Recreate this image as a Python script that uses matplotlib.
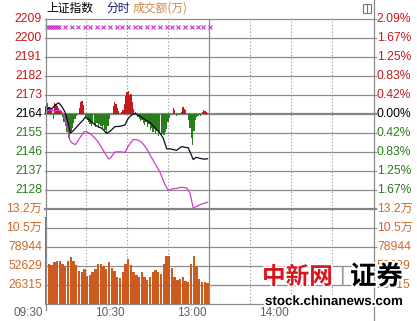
import matplotlib
matplotlib.use("Agg")
import matplotlib.pyplot as plt
import matplotlib.patheffects as pe
from matplotlib.lines import Line2D
from matplotlib.patches import Rectangle

# minutes after 09:30, the chart spans a whole 240-minute day
blackT = [0, 3, 5, 8, 10, 12.4, 14.6, 16.8, 18.7, 20.5, 22.7, 25.6, 27.8, 29.3, 31.5,
          33.7, 35.8, 38.8, 41.7, 45.1, 47.5, 51.2, 54.9, 58.5, 60.9, 63.4, 65.8, 69.5,
          73.2, 76.8, 80.5, 84.1, 86.5, 89, 91.4, 96.3, 100, 102.4, 104.8, 108.5, 110.5,
          113.4, 116.3, 118.9]
blackP = [2165.5, 2167, 2166.5, 2168.5, 2169.3, 2167.5, 2165, 2160, 2155, 2156, 2157.5,
          2159.6, 2161, 2162.4, 2161.8, 2160.5, 2159.2, 2158, 2157.2, 2154.8, 2155.8,
          2158, 2158.2, 2158.8, 2162, 2163.5, 2164.2, 2163, 2161.3, 2160, 2157.5, 2155,
          2152.6, 2147.5, 2147.5, 2146.8, 2148.6, 2148.2, 2148, 2142.4, 2143.5, 2143,
          2142.6, 2142.8]

purpleT = [0, 3.7, 7.3, 11, 13.7, 16.1, 18.3, 19.7, 22.2, 24.6, 28.3, 30, 32.9, 35.1,
           38, 41, 43.9, 46.6, 48.3, 51.2, 54.9, 58.5, 60.9, 64.6, 68.3, 71, 74.4, 76.8,
           80.5, 84.1, 87.8, 90.2, 92.9, 96.3, 100, 103.6, 106.1, 108.5, 112.2, 115.8,
           119]
purpleP = [2165.5, 2165.8, 2165.5, 2165.8, 2164, 2158, 2151.5, 2150.3, 2149.5, 2151.8,
           2155.5, 2155.8, 2154.8, 2153.5, 2151.5, 2148.5, 2145.4, 2142.7, 2143.5, 2146,
           2146.1, 2145.8, 2148.8, 2152, 2151.6, 2150.5, 2147.5, 2144.7, 2140.5, 2136.5,
           2130.5, 2127.8, 2128.5, 2128.8, 2129.3, 2129, 2126.5, 2119.4, 2120.7, 2121.6,
           2122.2]

# buy/sell strength bars, one per minute (index points off the previous close)
strength = [3.8, 4.7, 5.2, 3.3, 2.8, 2.4, -2.4, 5.2, 4.7, 3.8, 2.8, 1.9, 1.4,
            -1.4, -3.8, -5.6, -8.5, -11.3, -10.3, -8.0, -6.6, -4.2, -2.4,
            -0.9, 0, 2.8, 5.6, 6.1, 4.2, 0,
            -1.4, -2.8, -3.8, -4.7, -5.6, -3.8, -5.2, -6.1, -4.2, -6.6, -4.7, -5.6,
            -7.1, -5.2, -7.5, -9.4, -5.6, -2.4,
            0, 0, 3.8, 5.6, 4.7, 2.8, 1.4,
            0, 0.9, 1.9, 4.7, 8.5, 10.3, 10.8, 8.9, 9.4, 5.6, 2.4, 0.9,
            -0.5, -1.4, -2.4, -3.3, -2.8, -4.2, -5.2, -3.8, -6.1, -4.7, -7.5, -6.6,
            -8.5, -7.1, -9.4, -8.0, -10.3, -8.9, -10.3, -9.4, -9.9, -8.5, -7.1, -3.8, -1.9,
            -0.5, 0, 2.8, 1.9, -0.9, 0.5, -0.5, 0, 0.9, 3.3, 2.4, 1.9, 0,
            -2.8, -6.6, -11.3, -14.6, -8.0, -2.8, -1.4,
            -0.9, 0.5, -0.9, 0.9, 1.9, 1.4, 0.9, 0.5]

# turnover per 2 minutes
volT = list(range(0, 120, 2))
vol = [121000, 55000, 54000, 58000, 60000, 60000, 56000, 52000, 60000, 65000,
       60000, 54000, 46000, 45000, 48000, 39000, 40000, 44000, 48000, 55000,
       56000, 52000, 48000, 58000, 50000, 46000, 38000, 36000, 44000, 56000,
       62000, 54000, 45000, 40000, 37000, 44000, 38000, 33000, 38000, 45000,
       47000, 44000, 42000, 56000, 66000, 66000, 50000, 38000, 33000, 34000,
       37000, 32000, 30000, 55000, 66000, 52000, 35000, 30000, 31000, 29000]

markT = [1.5, 2.9, 4.4, 5.9, 7.3, 8.8, 10.2, 14.6, 19.5, 24.4, 29.3, 32.9, 37.8, 42.6,
         47.5, 52.4, 56.1, 60.9, 65.8, 69.5, 74.4, 79.2, 84.1, 89, 92.7, 97.5, 102.4,
         107.3, 112.1, 115.8, 120.7]

prevClose = 2164
priceTicks = [2209, 2200, 2191, 2182, 2173, 2164, 2155, 2146, 2137, 2128]
pctLabels = ["2.09%", "1.67%", "1.25%", "0.83%", "0.42%", "0.00%",
             "0.42%", "0.83%", "1.25%", "1.67%"]
volTicks = [131575, 105260, 78944, 52629, 26315]
volLabels = ["13.2万", "10.5万", "78944", "52629", "26315"]
timeTicks = [0, 60, 120, 180]
timeLabels = ["09:30", "10:30", "13:00", "14:00"]

RED = "#c41a1a"
GREEN = "#2a7d1c"
ORANGE = "#cf6a2a"
GRID = "#8c8c8c"
FONT = ["Liberation Sans", "Noto Sans CJK SC", "DejaVu Sans"]
CJK = ["Noto Sans CJK SC", "DejaVu Sans"]

W, H = 417, 321
fig = plt.figure(figsize=(W / 100, H / 100), dpi=100)


def fx(x):
    return x / W


def fy(y):
    return 1 - y / H


axP = fig.add_axes([fx(45), fy(209), 328 / W, 190 / H])
axV = fig.add_axes([fx(45), fy(304), 328 / W, 95 / H])
for ax in (axP, axV):
    ax.set_xlim(0, 240)
    ax.set_xticks([])
    ax.set_yticks([])
    for s in ax.spines.values():
        s.set_visible(False)
    for t in (30, 60, 90, 150, 180, 210):
        ax.axvline(t, color="#909090", lw=0.8, ls=(0, (1, 2)), zorder=1)
    ax.axvline(120, color=GRID, lw=0.9, zorder=1)
axP.set_ylim(2119, 2209)
axV.set_ylim(0, 131575)

# horizontal grid
for p in priceTicks:
    lw = 1.6 if p == prevClose else 0.9
    axP.axhline(p, xmax=1.008, color="#858585" if p == prevClose else GRID,
                lw=lw, zorder=1, clip_on=False)
axV.axhline(131575, xmax=1.008, color="#858585", lw=1.6, zorder=1, clip_on=False)
for v in volTicks[1:]:
    axV.axhline(v, xmax=1.008, color=GRID, lw=0.9, zorder=1, clip_on=False)
axV.axhline(0, xmax=1.01, color=GRID, lw=0.9, zorder=1, clip_on=False)

# frame lines
fig.add_artist(Line2D([fx(45.5), fx(45.5)], [fy(19), fy(310)], color=GRID, lw=0.9))
fig.add_artist(Line2D([fx(373.5), fx(373.5)], [fy(0), fy(321)], color=GRID, lw=0.9))

# strength bars
minutes = list(range(len(strength)))
cols = [RED if s > 0 else GREEN for s in strength]
axP.bar(minutes, strength, bottom=prevClose, width=0.95, color=cols, lw=0, zorder=2)

axP.plot(purpleT, purpleP, color="#cc3fcc", lw=0.9, zorder=3)
axP.plot(blackT, blackP, color="#0a0a28", lw=0.9, zorder=4)
axP.plot(markT, [2205.2] * len(markT), ls="none", marker="x", ms=2.6, mew=0.8,
         color="#cc33cc", zorder=4)

axV.bar(volT, vol, width=1.7, align="edge", color="#cc5b1f", lw=0, zorder=2)

# axis labels
for p, lab in zip(priceTicks, pctLabels):
    c = RED if p > prevClose else ("black" if p == prevClose else GREEN)
    axP.text(-0.009, p, str(p), transform=axP.get_yaxis_transform(), ha="right",
             va="center", color=c, fontsize=8.7, family=FONT)
    axP.text(1.012, p, lab, transform=axP.get_yaxis_transform(), ha="left",
             va="center", color=c, fontsize=8.7, family=FONT)
for v, lab in zip(volTicks, volLabels):
    axV.text(-0.009, v, lab, transform=axV.get_yaxis_transform(), ha="right",
             va="center", color=ORANGE, fontsize=8.7, family=FONT)
    # the two lowest right-hand labels lie behind the watermark, as in the source
    axV.text(1.012, v, lab, transform=axV.get_yaxis_transform(), ha="left",
             va="center", color=ORANGE, fontsize=8.7, family=FONT, zorder=1)

for t, lab in zip(timeTicks, timeLabels):
    fig.text(fx(43 + t * 328 / 240), fy(313), lab, ha="right", va="center",
             color="#606060", fontsize=8.5, family=FONT)

# title row
fig.text(fx(46), fy(8.5), "上证指数", ha="left", va="center", fontsize=8.5, family=CJK)
fig.text(fx(106), fy(8.5), "分时", ha="left", va="center", fontsize=8.5,
         color="#14146e", family=CJK)
fig.text(fx(133), fy(8.5), "成交额(万)", ha="left", va="center", fontsize=8.5,
         color="#c98a4e", family=CJK)
fig.add_artist(Rectangle((fx(363), fy(13)), 8 / W, 9 / H, fill=False,
                         ec="#777777", lw=0.8))
fig.add_artist(Line2D([fx(367), fx(367)], [fy(13), fy(4)], color="#777777", lw=0.8))

# watermark
halo = [pe.withStroke(linewidth=2.5, foreground="white")]
fig.text(fx(262), fy(277), "中新网", ha="left", va="center", fontsize=17,
         color="#d8141c", weight="bold", family=CJK, zorder=10, path_effects=halo)
fig.text(fx(342), fy(277), "|", ha="center", va="center", fontsize=15,
         color="#9a9a9a", family=FONT, zorder=10)
fig.text(fx(350), fy(277), "证券", ha="left", va="center", fontsize=19,
         color="black", weight="bold", family=CJK, zorder=10, path_effects=halo)
fig.text(fx(265), fy(302), "stock.chinanews.com", ha="left", va="center",
         fontsize=9.6, color="black", weight="bold", family=FONT, zorder=10,
         path_effects=halo)

fig.savefig("out.png", dpi=100)
